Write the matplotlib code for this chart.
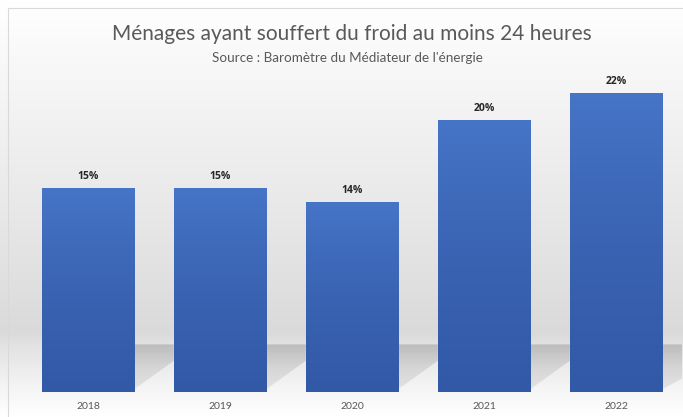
import numpy as np
import matplotlib
matplotlib.use('Agg')
import matplotlib.pyplot as plt
from matplotlib.colors import LinearSegmentedColormap

years = ["2018", "2019", "2020", "2021", "2022"]
values = [15, 15, 14, 20, 22]
labels = ["15%", "15%", "14%", "20%", "22%"]

TITLE = "Ménages ayant souffert du froid au moins 24 heures"
SUBTITLE = "Source : Baromètre du Médiateur de l'énergie"

plt.rcParams['font.family'] = ['Lato', 'DejaVu Sans']

fig = plt.figure(figsize=(6.83, 4.17), dpi=100)

# background: white at the top, grey "wall", lighter "floor" at the bottom
bg = fig.add_axes([0, 0, 1, 1])
bg.set_axis_off()
bg_cmap = LinearSegmentedColormap.from_list(
    "bg", [(0.0, "#ffffff"), (0.15, "#f8f8f8"), (0.55, "#e6e6e6"),
           (0.80, "#dadada"), (0.83, "#e2e2e2"), (0.93, "#f4f4f4"),
           (1.0, "#ffffff")])
grad = np.linspace(0, 1, 400).reshape(-1, 1)
bg.imshow(grad, aspect="auto", cmap=bg_cmap, extent=[0, 1, 0, 1],
          origin="upper", interpolation="bicubic")
bg.set_xlim(0, 1)
bg.set_ylim(0, 1)

ax = fig.add_axes([22 / 683, 25 / 417, 660 / 683, 367 / 417])
ax.set_facecolor("none")
x = np.arange(len(years))
width = 0.7
ymax = 27

# cast shadows on the "floor", to the right of each bar
shadow_cmap = LinearSegmentedColormap.from_list("sh", ["#bcbcbc", "#d6d6d6", "#e4e4e4"])
horizon = 3.5
for xi in x:
    x0 = xi + width / 2
    x1 = xi + 1 - width / 2 + (0.1 if xi == x[-1] else 0)
    poly = plt.Polygon([(x0, horizon), (x0, 0.2), (x1, 2.3), (x1, horizon)],
                       closed=True, facecolor="none", edgecolor="none")
    ax.add_patch(poly)
    im = ax.imshow(np.linspace(0, 1, 100).reshape(-1, 1), cmap=shadow_cmap,
                   extent=[x0, x1, 0, horizon], origin="upper", aspect="auto",
                   interpolation="bicubic", zorder=1)
    im.set_clip_path(poly)

# bars with a light vertical gradient
bar_cmap = LinearSegmentedColormap.from_list("bar", ["#4674c6", "#3a63b3", "#3159a6"])
bars = ax.bar(x, values, width=width, color="#3c66b8", edgecolor="#6d8fd0",
              linewidth=0.5, zorder=2)
for bar in bars:
    bx, bw, bh = bar.get_x(), bar.get_width(), bar.get_height()
    im = ax.imshow(np.linspace(0, 1, 100).reshape(-1, 1), cmap=bar_cmap,
                   extent=[bx, bx + bw, 0, bh], origin="upper", aspect="auto",
                   interpolation="bicubic", zorder=2.5)
    im.set_clip_path(bar)

for bar, lab in zip(bars, labels):
    ax.text(bar.get_x() + bar.get_width() / 2, bar.get_height() + 0.45, lab,
            ha="center", va="bottom", fontsize=7.5, fontweight="bold",
            family=["Open Sans", "DejaVu Sans"], color="#262626", zorder=3)

ax.set_xlim(-0.5, len(years) - 0.5)
ax.set_ylim(0, ymax)
ax.set_xticks(x)
ax.set_xticklabels(years, fontsize=7.5, color="#595959")
ax.tick_params(axis="x", length=0, pad=7)
ax.set_yticks([])
for s in ax.spines.values():
    s.set_visible(False)

fig.text(0.515, 0.918, TITLE, ha="center", va="center", fontsize=15,
         color="#595959")
fig.text(0.508, 0.862, SUBTITLE, ha="center", va="center", fontsize=9.7,
         color="#595959")

# thin frame around the chart area
frame = plt.Rectangle((8 / 683, -0.01), 1, 1 - 8 / 417 + 0.01,
                      transform=fig.transFigure, fill=False,
                      edgecolor="#d9d9d9", lw=0.8)
fig.patches.append(frame)

fig.savefig("out.png", dpi=100)
